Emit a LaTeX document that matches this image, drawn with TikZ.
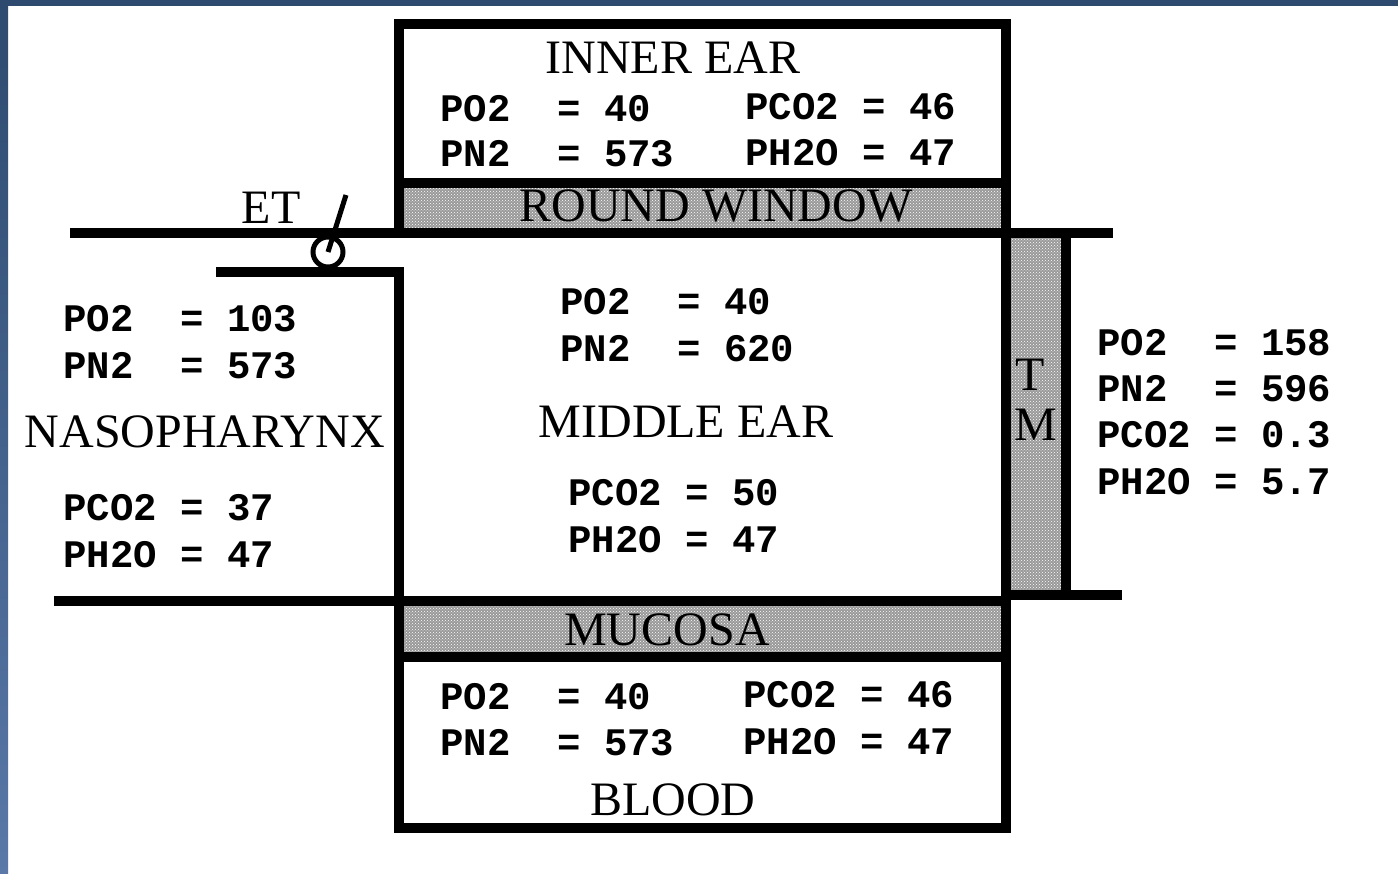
\documentclass[tikz,border=0pt]{standalone}
\usepackage{fontspec}
\setmainfont{Liberation Serif}
\newfontfamily\gasfont{Liberation Mono}
\usetikzlibrary{patterns}
\definecolor{slideblue}{HTML}{2E4A6E}
\definecolor{slidelight}{HTML}{5A78A8}
\tikzset{wall/.style={line width=10pt},
  band/.style={fill=black!40},
  gas/.style={anchor=base west,inner sep=0pt,font=\gasfont\bfseries\fontsize{39}{46}\selectfont},
  title/.style={inner sep=0pt,font=\fontsize{48}{56}\selectfont}}

\begin{document}
\begin{tikzpicture}[x=1pt,y=-1pt]
\useasboundingbox (0,0) rectangle (1398,874);
\fill[white] (0,0) rectangle (1398,874);
\fill[top color=slideblue,bottom color=slidelight] (0,0) rectangle (8,874);
\fill[slideblue] (0,0) rectangle (1398,6);
\def\lt{399}\def\rt{1006}
% membranes
\fill[band] (\lt,183) rectangle (\rt,233);
\fill[band] (\lt,601) rectangle (\rt,657);
\fill[band] (\rt,233) rectangle (1066,595);
\fill[pattern=crosshatch dots,pattern color=white] (\lt,183) rectangle (\rt,233);
\fill[pattern=crosshatch dots,pattern color=white] (\lt,601) rectangle (\rt,657);
\fill[pattern=crosshatch dots,pattern color=white] (\rt,233) rectangle (1066,595);
% walls
\draw[wall] (\lt,238) -- (\lt,24) -- (\rt,24) -- (\rt,238);
\draw[wall] (\lt,183) -- (\rt,183);
\draw[wall] (70,233) -- (1113,233);
\draw[wall] (216,272) -- (\lt,272) -- (\lt,828) -- (\rt,828) -- (\rt,590);
\draw[wall] (54,601) -- (\rt,601);
\draw[wall] (\lt,657) -- (\rt,657);
\draw[wall] (\rt,233) -- (\rt,600);
\draw[wall] (1066,228) -- (1066,600);
\draw[wall] (\rt,595) -- (1122,595);
% eustachian tube valve
\coordinate (valve) at (328,252);
\coordinate (lever) at (346,195);
\draw[line width=5pt] (valve) circle (15pt);
\draw[line width=5pt] (lever) -- (valve);
\path (271,208) node[title] (et) {ET};
% inner ear
\path (673,58) node[title] (inner) {INNER EAR};
\path (440,122) node[gas] (iepo) {PO2\ \ = 40};
\path (440,167) node[gas] (iepn) {PN2\ \ = 573};
\path (745,120) node[gas] (iepc) {PCO2 = 46};
\path (745,166) node[gas] (ieph) {PH2O = 47};
\path (716,206) node[title] (round) {ROUND WINDOW};
% nasopharynx
\path (63,332) node[gas] (npo) {PO2\ \ = 103};
\path (63,379) node[gas] (npn) {PN2\ \ = 573};
\path (205,432) node[title] (naso) {NASOPHARYNX};
\path (63,520) node[gas] (npc) {PCO2 = 37};
\path (63,567) node[gas] (nph) {PH2O = 47};
% middle ear
\path (560,315) node[gas] (mepo) {PO2\ \ = 40};
\path (560,362) node[gas] (mepn) {PN2\ \ = 620};
\path (686,422) node[title] (middle) {MIDDLE EAR};
\path (568,505) node[gas] (mepc) {PCO2 = 50};
\path (568,552) node[gas] (meph) {PH2O = 47};
% tympanic membrane and outside air
\path (1030,375) node[title] (tt) {T};
\path (1036,425) node[title] (tm) {M};
\path (1097,356) node[gas] (apo) {PO2\ \ = 158};
\path (1097,402) node[gas] (apn) {PN2\ \ = 596};
\path (1097,448) node[gas] (apc) {PCO2 = 0.3};
\path (1097,494) node[gas] (aph) {PH2O = 5.7};
% blood
\path (667,630) node[title] (mucosa) {MUCOSA};
\path (440,709) node[gas] (bpo) {PO2\ \ = 40};
\path (440,755) node[gas] (bpn) {PN2\ \ = 573};
\path (743,707) node[gas] (bpc) {PCO2 = 46};
\path (743,754) node[gas] (bph) {PH2O = 47};
\path (673,800) node[title] (blood) {BLOOD};
\end{tikzpicture}
\end{document}
